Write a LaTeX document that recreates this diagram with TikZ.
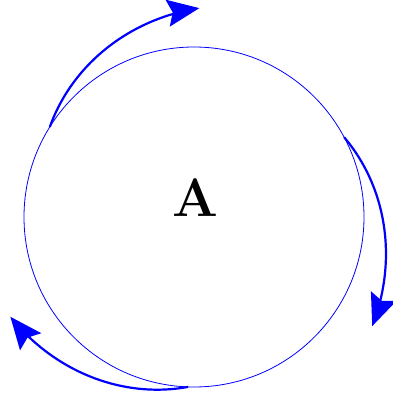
\documentclass[tikz,border=0pt]{standalone}
\usetikzlibrary{arrows.meta}
\begin{document}
\begin{tikzpicture}[x=1pt,y=-1pt,
  ring/.style={draw=blue,line width=0.8pt},
  turn/.style={draw=blue,line width=2.2pt,-{Stealth[length=32pt,width=27pt,inset=5pt]}},
  lbl/.style={inner sep=0pt,font=\fontsize{54}{54}\selectfont\bfseries}]
\useasboundingbox (0,0) rectangle (393,396);
\node[ring,circle,minimum size=340pt,inner sep=0pt] (c) at (194,217) {};
\node[lbl] (a) at (195,198) {A};
\foreach \a in {148,28,-92}{
  \draw[turn] plot[domain=0:1,samples=50,variable=\t,smooth]
    ({194+(170+39*\t)*cos(\a-59.5*\t)},{217-(170+39*\t)*sin(\a-59.5*\t)});
}
\end{tikzpicture}
\end{document}
